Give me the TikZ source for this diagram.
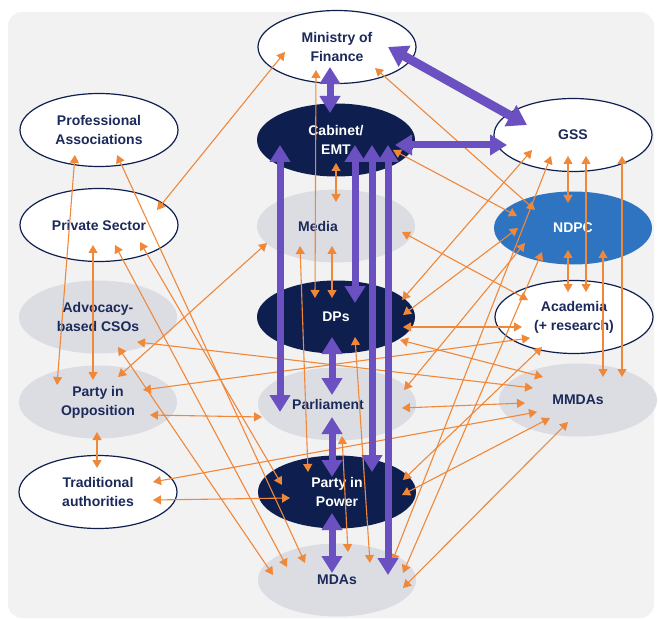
\documentclass[tikz,border=0pt]{standalone}
\usepackage{fontspec}
\setmainfont{Liberation Sans}
\usetikzlibrary{arrows.meta,calc,shapes.geometric}
\definecolor{navy}{HTML}{0E1F4F}
\definecolor{txt}{HTML}{1C2A5A}
\definecolor{nodegray}{HTML}{DCDDE3}
\definecolor{ndpcblue}{HTML}{2E74C0}
\definecolor{purp}{HTML}{6A50C0}
\definecolor{orng}{HTML}{F0883A}
\definecolor{bgc}{HTML}{F2F2F2}
\tikzset{
  ell/.style={ellipse, minimum width=158pt, minimum height=73pt, inner sep=0pt, align=center,
    font=\bfseries\fontsize{14}{19}\selectfont, text=txt},
  wnode/.style={ell, fill=white, draw=navy, line width=1.2pt},
  gnode/.style={ell, fill=nodegray},
  dnode/.style={ell, fill=navy, text=white},
  bnode/.style={ell, fill=ndpcblue, text=white},
  oa/.style={draw=orng, line width=1.1pt, {Triangle[width=9pt,length=8pt]}-{Triangle[width=9pt,length=8pt]}},
  pa/.style={draw=purp, line width=7pt, {Triangle[width=20pt,length=17pt]}-{Triangle[width=20pt,length=17pt]}},
  pabig/.style={draw=purp, line width=9pt, {Triangle[width=23pt,length=19pt]}-{Triangle[width=23pt,length=19pt]}}
}
\begin{document}
\begin{tikzpicture}[x=1pt,y=-1pt]
\useasboundingbox (0,0) rectangle (658,620);
\fill[white] (0,0) rectangle (658,620);
\fill[bgc, rounded corners=14pt] (8,12) rectangle (654,618);

\node[wnode] (mof) at (337,47) {Ministry of\\Finance};
\node[dnode] (cab) at (336,140) {Cabinet/\\EMT};
\node[gnode] (media) at (336,226) {\hspace*{-36pt}Media};
\node[dnode] (dps) at (336,317) {DPs};
\node[gnode] (parl) at (337,404) {\hspace*{-18pt}Parliament};
\node[dnode] (pip) at (337,492) {Party in\\Power};
\node[gnode] (mdas) at (337,580) {MDAs};
\node[wnode] (prof) at (99,130) {Professional\\Associations};
\node[wnode] (priv) at (99,225) {Private Sector};
\node[gnode] (adv) at (98,317) {Advocacy-\\based CSOs};
\node[gnode] (opp) at (98,402) {Party in\\Opposition};
\node[wnode] (trad) at (98,492) {Traditional\\authorities};
\node[wnode] (gss) at (573,135) {GSS};
\node[bnode] (ndpc) at (573,228) {NDPC};
\node[wnode] (acad) at (574,317) {Academia\\(+ research)};
\node[gnode] (mmdas) at (578,400) {MMDAs};

% orange connectors
\draw[oa] ($(priv)+(58,-15)$) -- ($(mof)+(-52,5)$);
\draw[oa] ($(mof)+(-21,23)$) -- ($(dps)+(-21,-19)$);
\draw[oa] ($(mof)+(38,21)$) -- ($(ndpc)+(-38,-18)$);
\draw[oa] ($(cab)+(0,23)$) -- ($(media)+(0,-24)$);
\draw[oa] ($(cab)+(57,10)$) -- ($(ndpc)+(-56,-12)$);
\draw[oa] ($(dps)+(66,-17)$) -- ($(gss)+(-41,15)$);
\draw[oa] ($(gss)+(-22,21)$) -- ($(mdas)+(55,-18)$);
\draw[oa] ($(gss)+(-5,21)$) -- ($(ndpc)+(-5,-25)$);
\draw[oa] ($(gss)+(13,21)$) -- ($(acad)+(12,-25)$);
\draw[oa] ($(gss)+(49,21)$) -- ($(mmdas)+(44,-23)$);
\draw[oa] ($(ndpc)+(-5,22)$) -- ($(acad)+(-6,-25)$);
\draw[oa] ($(ndpc)+(30,22)$) -- ($(mmdas)+(25,-23)$);
\draw[oa] ($(ndpc)+(-55,0)$) -- ($(dps)+(67,-2)$);
\draw[oa] ($(ndpc)+(-48,15)$) -- ($(parl)+(67,-14)$);
\draw[oa] ($(ndpc)+(-31,24)$) -- ($(mdas)+(66,-7)$);
\draw[oa] ($(media)+(66,6)$) -- ($(acad)+(-46,-17)$);
\draw[oa] ($(media)+(-69,17)$) -- ($(opp)+(20,-25)$);
\draw[oa] ($(media)+(-36,20)$) -- ($(pip)+(-29,-20)$);
\draw[oa] ($(media)+(-4,20)$) -- ($(dps)+(-4,-19)$);
\draw[oa] ($(dps)+(67,10)$) -- ($(acad)+(-52,10)$);
\draw[oa] ($(dps)+(64,23)$) -- ($(mmdas)+(-35,-23)$);
\draw[oa] ($(dps)+(19,20)$) -- ($(mdas)+(33,-17)$);
\draw[oa] ($(parl)+(5,32)$) -- ($(mdas)+(11,-28)$);
\draw[oa] ($(parl)+(65,4)$) -- ($(mmdas)+(-53,3)$);
\draw[oa] ($(parl)+(-75,13)$) -- ($(opp)+(52,13)$);
\draw[oa] ($(prof)+(-24,25)$) -- ($(opp)+(-41,-17)$);
\draw[oa] ($(priv)+(-6,20)$) -- ($(opp)+(-5,-22)$);
\draw[oa] ($(prof)+(18,25)$) -- ($(mdas)+(-32,-17)$);
\draw[oa] ($(priv)+(41,17)$) -- ($(pip)+(-55,-7)$);
\draw[oa] ($(priv)+(16,20)$) -- ($(mdas)+(-50,-13)$);
\draw[oa] ($(adv)+(20,30)$) -- ($(mdas)+(-64,-5)$);
\draw[oa] ($(adv)+(39,25)$) -- ($(mmdas)+(-45,-12)$);
\draw[oa] ($(opp)+(45,-12)$) -- ($(acad)+(-44,21)$);
\draw[oa] ($(opp)+(-1,30)$) -- ($(trad)+(-1,-24)$);
\draw[oa] ($(trad)+(55,8)$) -- ($(pip)+(-47,6)$);
\draw[oa] ($(trad)+(55,-10)$) -- ($(mmdas)+(-41,12)$);
\draw[oa] ($(pip)+(66,-12)$) -- ($(acad)+(-32,30)$);
\draw[oa] ($(pip)+(65,3)$) -- ($(mmdas)+(-28,18)$);
\draw[oa] ($(mdas)+(66,8)$) -- ($(mmdas)+(-10,22)$);

% purple connectors
\draw[pa] ($(mof)+(-7,20)$) -- ($(cab)+(-6,-27)$);
\draw[pabig] ($(mof)+(51,0)$) -- ($(gss)+(-46,-10)$);
\draw[pa] ($(cab)+(59,5)$) -- ($(gss)+(-66,10)$);
\draw[pa] ($(cab)+(-56,5)$) -- ($(parl)+(-57,8)$);
\draw[pa] ($(cab)+(19,5)$) -- ($(dps)+(19,-14)$);
\draw[pa] ($(cab)+(36,5)$) -- ($(pip)+(35,-20)$);
\draw[pa] ($(cab)+(52,5)$) -- ($(mdas)+(51,-5)$);
\draw[pa] ($(dps)+(-4,20)$) -- ($(parl)+(-5,-9)$);
\draw[pa] ($(parl)+(-5,13)$) -- ($(pip)+(-5,-15)$);
\draw[pa] ($(pip)+(-5,21)$) -- ($(mdas)+(-5,-7)$);
\end{tikzpicture}
\end{document}
